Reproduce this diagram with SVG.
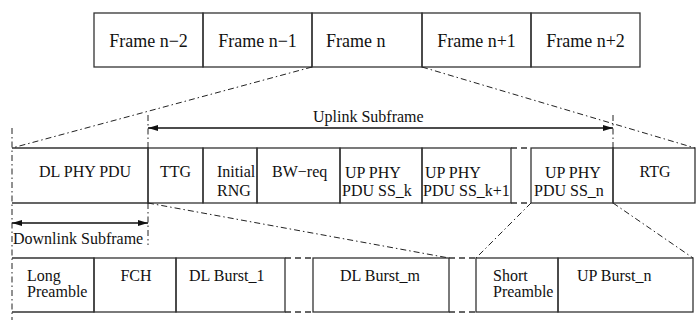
<svg xmlns="http://www.w3.org/2000/svg" width="696" height="320" viewBox="0 0 696 320">
<style>
.box{fill:none;stroke:#333;stroke-width:1.3}
.t{font-family:'Liberation Serif','DejaVu Serif',serif;font-size:16px;fill:#111}
.f{font-size:18px}
.m{text-anchor:middle}
.dd{fill:none;stroke:#222;stroke-width:1;stroke-dasharray:6 3 1.5 3}
.gap{fill:none;stroke:#333;stroke-width:1.3;stroke-dasharray:6 4}
.arr{fill:none;stroke:#111;stroke-width:1.3}
</style>
<defs>
<marker id="ah" viewBox="0 0 10 6" refX="10" refY="3" markerWidth="10" markerHeight="6" markerUnits="userSpaceOnUse" orient="auto-start-reverse">
<path d="M0,0 L10,3 L0,6 Z" fill="#111"/>
</marker>
</defs>
<rect width="696" height="320" fill="#fff"/>

<g id="frames">
<g id="frame-n-2"><rect class="box" x="94" y="13" width="109" height="54"/><text class="t f m" x="148.5" y="47">Frame n−2</text></g>
<g id="frame-n-1"><rect class="box" x="203" y="13" width="109" height="54"/><text class="t f m" x="257.5" y="47">Frame n−1</text></g>
<g id="frame-n"><rect class="box" x="312" y="13" width="110" height="54"/><text class="t f" x="326" y="47">Frame n</text></g>
<g id="frame-n+1"><rect class="box" x="422" y="13" width="109" height="54"/><text class="t f m" x="476.5" y="47">Frame n+1</text></g>
<g id="frame-n+2"><rect class="box" x="531" y="13" width="109" height="54"/><text class="t f m" x="585.5" y="47">Frame n+2</text></g>
</g>

<g id="middle-row">
<g id="dl-phy-pdu"><path class="box" d="M12,148 H148 V203 H12"/><text class="t" x="39" y="177">DL PHY PDU</text></g>
<g id="ttg"><rect class="box" x="148" y="148" width="55" height="55"/><text class="t m" x="175.5" y="177">TTG</text></g>
<g id="initial-rng"><rect class="box" x="203" y="148" width="54" height="55"/><text class="t" x="217" y="177">Initial</text><text class="t" x="217" y="196">RNG</text></g>
<g id="bw-req"><rect class="box" x="257" y="148" width="83" height="55"/><text class="t" x="272" y="177">BW−req</text></g>
<g id="up-ss-k"><rect class="box" x="340" y="148" width="82" height="55"/><text class="t" x="345" y="178">UP PHY</text><text class="t" x="342" y="196">PDU SS_k</text></g>
<g id="up-ss-k1"><rect class="box" x="422" y="148" width="89" height="55"/><text class="t" x="425" y="178">UP PHY</text><text class="t" x="423" y="196">PDU SS_k+1</text></g>
<g id="up-ss-n"><rect class="box" x="531" y="148" width="82" height="55"/><text class="t" x="545" y="178">UP PHY</text><text class="t" x="534" y="196">PDU SS_n</text></g>
<g id="rtg"><rect class="box" x="613" y="148" width="82" height="55"/><text class="t m" x="655" y="177">RTG</text></g>
</g>

<g id="bottom-row">
<g id="long-preamble"><path class="box" d="M12,258 H94 V312 H12"/><text class="t" x="27" y="281">Long</text><text class="t" x="27" y="297">Preamble</text></g>
<g id="fch"><rect class="box" x="94" y="258" width="82" height="54"/><text class="t m" x="136" y="281">FCH</text></g>
<g id="dl-burst-1"><rect class="box" x="176" y="258" width="109" height="54"/><text class="t" x="189" y="281">DL Burst_1</text></g>
<g id="dl-burst-m"><rect class="box" x="313" y="258" width="136" height="54"/><text class="t" x="340" y="281">DL Burst_m</text></g>
<g id="short-preamble"><rect class="box" x="476" y="258" width="82" height="54"/><text class="t" x="493" y="281">Short</text><text class="t" x="493" y="297">Preamble</text></g>
<g id="up-burst-n"><rect class="box" x="558" y="258" width="135" height="54"/><text class="t" x="577" y="281">UP Burst_n</text></g>
</g>

<g id="labels">
<text class="t" x="313" y="122">Uplink Subframe</text>
<text class="t" x="13" y="244">Downlink Subframe</text>
</g>

<g id="connectors">
<path class="gap" d="M511,148 H531 M511,203 H531 M285,258 H313 M285,312 H313 M449,258 H476 M449,312 H476"/>
<path class="dd" d="M312,67 L12,148"/>
<path class="dd" d="M422,67 L695,148"/>
<path class="dd" d="M12,128 V320"/>
<path class="dd" d="M148,115 V148"/>
<path class="dd" d="M148,203 V245"/>
<path class="dd" d="M613,115 V148"/>
<path class="dd" d="M148,203 L449,258"/>
<path class="dd" d="M531,203 L476,258"/>
<path class="dd" d="M613,203 L693,258"/>
<path class="arr" d="M148,128 H613" marker-start="url(#ah)" marker-end="url(#ah)"/>
<path class="arr" d="M12,223 H148" marker-start="url(#ah)" marker-end="url(#ah)"/>
</g>
</svg>
